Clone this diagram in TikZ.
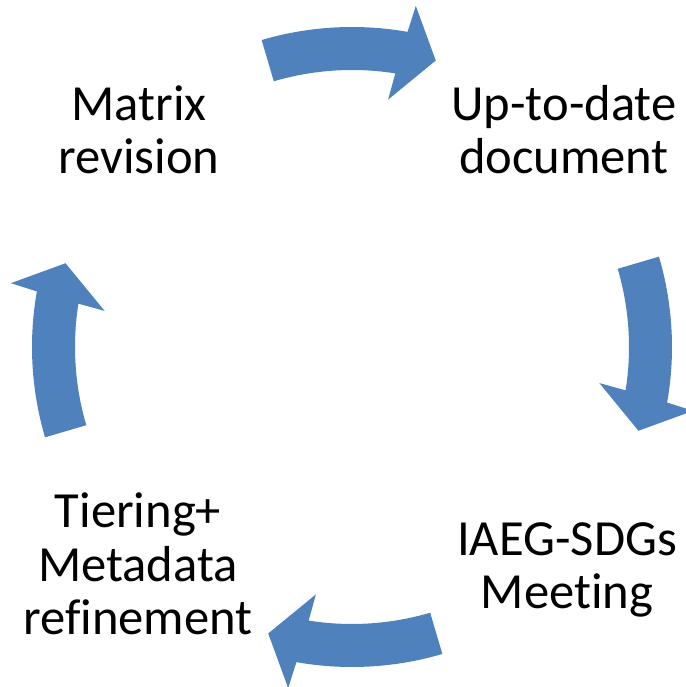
\documentclass[tikz,border=0pt]{standalone}
\usepackage{fontspec}
\setmainfont{Carlito}[Ligatures=NoCommon]
\definecolor{pilblaa}{HTML}{4F81BD}

\begin{document}
\begin{tikzpicture}[x=0.02cm, y=0.02cm,
		tekst/.style={align=center, font=\fontsize{28.8}{30.3}\selectfont},
		pil/.style={fill=pilblaa}]
		\clip (0,0) rectangle (686,687);

		% Sirkulaere piler
		\foreach \v in {0,90,180,270}{
			\begin{scope}[shift={(352,340)}, rotate=-\v]
				\fill[pil] (106.4:320) arc[start angle=106.4, end angle=80, radius=320]
				-- (79.4:347) -- (73.7:298.5) -- (81.7:250) -- (81:277)
				arc[start angle=81, end angle=106.4, radius=277] -- cycle;
			\end{scope}
		}

		% Tekster
		\node[tekst] (revisjon) at (139,557) {Matrix\\revision};
		\node[tekst] (dokument) at (564,557) {Up-to-date\\document};
		\node[tekst] (moete) at (567,117) {IAEG-SDGs\\Meeting};
		\node[tekst] (tiering) at (138,123) {Tiering+\\Metadata\\refinement};
	\end{tikzpicture}
\end{document}
